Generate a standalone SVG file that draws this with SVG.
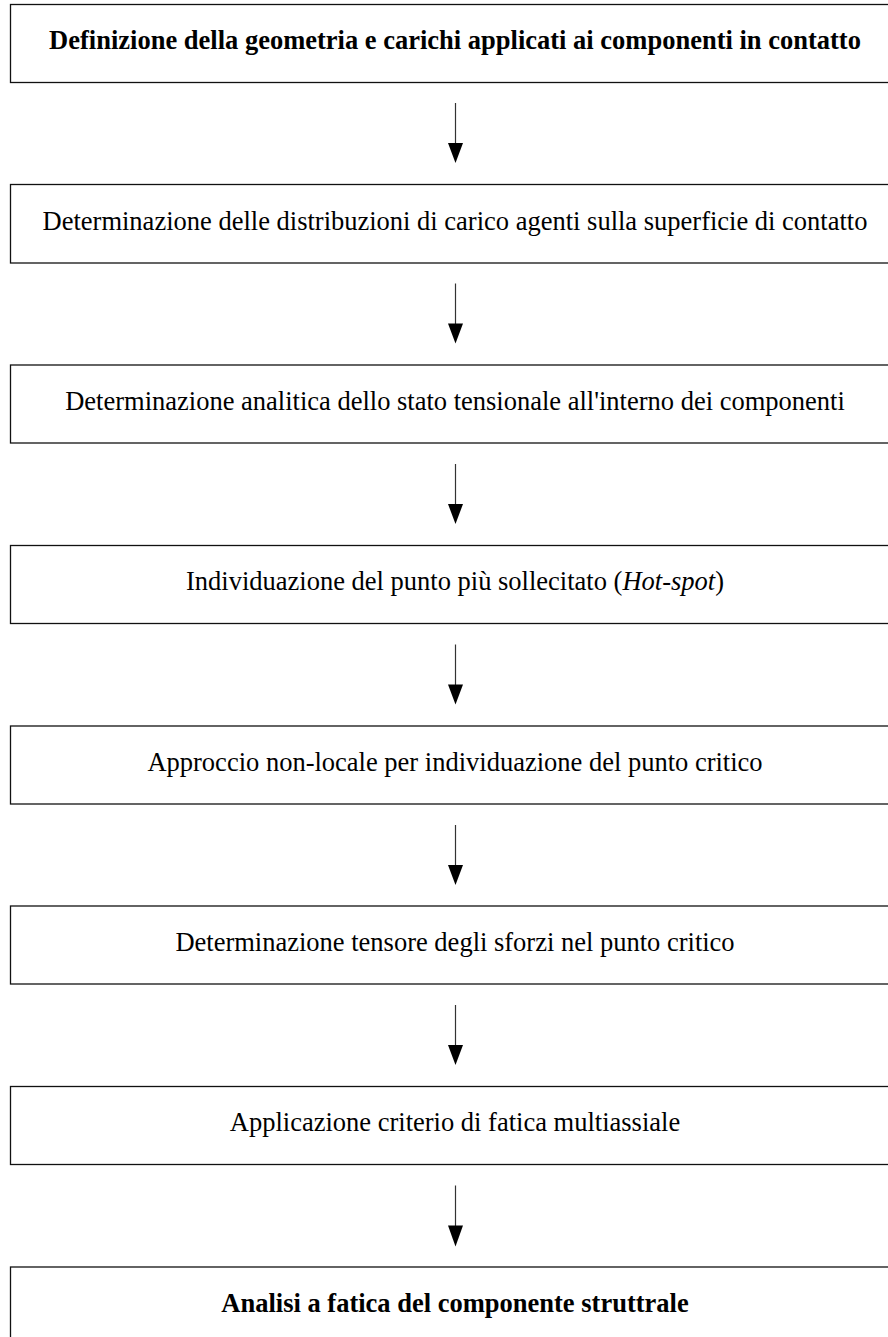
<svg xmlns="http://www.w3.org/2000/svg" width="888" height="1337" viewBox="0 0 888 1337">
<style>
.box{fill:#fff;stroke:#111;stroke-width:1.3}
.t{font-family:"Liberation Serif","Times New Roman",serif;font-size:26.5px;fill:#000;text-anchor:middle}
.b{font-weight:bold}
.c{stroke:#333;stroke-width:1.2;fill:none}
.h{fill:#000;stroke:none}
</style>
<rect width="888" height="1337" fill="#fff"/>
<g id="n1"><rect class="box" x="10.5" y="4.5" width="900" height="78"/><text class="t b" x="455" y="49">Definizione della geometria e carichi applicati ai componenti in contatto</text></g>
<g id="n2"><rect class="box" x="10.5" y="184.5" width="900" height="78.5"/><text class="t" x="455" y="229.5">Determinazione delle distribuzioni di carico agenti sulla superficie di contatto</text></g>
<g id="n3"><rect class="box" x="10.5" y="365" width="900" height="78"/><text class="t" x="455" y="409.5">Determinazione analitica dello stato tensionale all'interno dei componenti</text></g>
<g id="n4"><rect class="box" x="10.5" y="545.5" width="900" height="78"/><text class="t" x="455" y="590">Individuazione del punto più sollecitato (<tspan font-style="italic">Hot-spot</tspan>)</text></g>
<g id="n5"><rect class="box" x="10.5" y="726" width="900" height="78"/><text class="t" x="455" y="770.5">Approccio non-locale per individuazione del punto critico</text></g>
<g id="n6"><rect class="box" x="10.5" y="906" width="900" height="78"/><text class="t" x="455" y="950.5">Determinazione tensore degli sforzi nel punto critico</text></g>
<g id="n7"><rect class="box" x="10.5" y="1086.5" width="900" height="78"/><text class="t" x="455" y="1131">Applicazione criterio di fatica multiassiale</text></g>
<g id="n8"><rect class="box" x="10.5" y="1267" width="900" height="78"/><text class="t b" x="455" y="1311.5">Analisi a fatica del componente struttrale</text></g>
<g id="connectors">
<path class="c" d="M455.5 103V145"/><path class="h" d="M448 143H463L455.5 163Z"/>
<path class="c" d="M455.5 283.5V325.5"/><path class="h" d="M448 323.5H463L455.5 343.5Z"/>
<path class="c" d="M455.5 464V506"/><path class="h" d="M448 504H463L455.5 524Z"/>
<path class="c" d="M455.5 644.5V686.5"/><path class="h" d="M448 684.5H463L455.5 704.5Z"/>
<path class="c" d="M455.5 825V867"/><path class="h" d="M448 865H463L455.5 885Z"/>
<path class="c" d="M455.5 1005V1047"/><path class="h" d="M448 1045H463L455.5 1065Z"/>
<path class="c" d="M455.5 1185.5V1227.5"/><path class="h" d="M448 1225.5H463L455.5 1246.5Z"/>
</g>
</svg>
